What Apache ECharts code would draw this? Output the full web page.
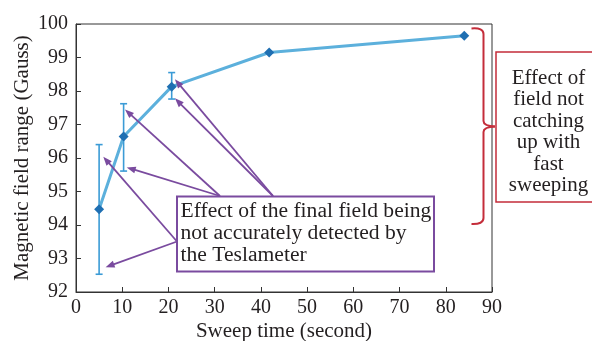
<!DOCTYPE html>
<html><head><meta charset="utf-8">
<script src="https://cdn.jsdelivr.net/npm/echarts@6/dist/echarts.min.js"></script>
<style>html,body{margin:0;padding:0;background:#fff}#c{width:592px;height:341px}</style>
</head><body><div id="c"></div>
<script>
var sweepTime = [5, 10.3, 20.7, 41.8, 84.0];
var fieldRange = [94.47, 96.64, 98.13, 99.15, 99.65];
var errLow = [92.53, 95.61, 97.76, null, null];
var errHigh = [96.40, 97.62, 98.55, null, null];
var xTicks = [0, 10, 20, 30, 40, 50, 60, 70, 80, 90];
var yTicks = [92, 93, 94, 95, 96, 97, 98, 99, 100];
// arrow tips (data coords) for purple annotation
var arrowTips = [[5.9, 96.04], [6.4, 92.74], [10.97, 95.72], [10.6, 97.45], [21.4, 97.78], [21.4, 98.35]];
var purpleText = ['Effect of the final field being', 'not accurately detected by', 'the Teslameter'];
var redText = ['Effect of', 'field not', 'catching', 'up with', 'fast', 'sweeping'];

var FONT = "'Liberation Serif','Times New Roman',serif";
var TXT = '#231f20';
var PURPLE = '#7a4b9f';
var RED = '#c42d3a';

var lineData = sweepTime.map(function (x, i) { return [x, fieldRange[i]]; });
var errData = [];
sweepTime.forEach(function (x, i) { if (errLow[i] != null) errData.push([x, errLow[i], errHigh[i]]); });

var chart = echarts.init(document.getElementById('c'), null, { renderer: 'canvas' });
chart.setOption({
  animation: false,
  grid: { left: 76, right: 100, top: 24, bottom: 49, outerBoundsMode: 'none', containLabel: false,
    show: true, borderColor: '#333', borderWidth: 1, backgroundColor: 'transparent' },
  xAxis: {
    type: 'value', min: 0, max: 90, interval: 10,
    name: 'Sweep time (second)', nameLocation: 'middle', nameGap: 29, nameMoveOverlap: false,
    nameTextStyle: { fontFamily: FONT, fontSize: 21, color: TXT },
    axisLine: { show: true, lineStyle: { color: '#333' } },
    axisTick: { show: true, inside: true, length: 5, lineStyle: { color: '#333' } },
    axisLabel: { fontFamily: FONT, fontSize: 20, color: TXT, margin: 6,
      formatter: function (v) { return xTicks.indexOf(v) >= 0 ? String(v) : ''; } },
    splitLine: { show: false }
  },
  yAxis: {
    type: 'value', min: 92, max: 100, interval: 1,
    name: 'Magnetic field range (Gauss)', nameLocation: 'middle', nameGap: 43, nameMoveOverlap: false,
    nameTextStyle: { fontFamily: FONT, fontSize: 21, color: TXT },
    axisLine: { show: true, lineStyle: { color: '#333' } },
    axisTick: { show: true, inside: true, length: 5, lineStyle: { color: '#333' } },
    axisLabel: { fontFamily: FONT, fontSize: 20, color: TXT, margin: 8,
      formatter: function (v) { return yTicks.indexOf(v) >= 0 ? String(v) : ''; } },
    splitLine: { show: false }
  },
  series: [
    {
      type: 'custom', z: 3,
      data: errData,
      renderItem: function (params, api) {
        var x = api.value(0);
        var lo = api.coord([x, api.value(1)]);
        var hi = api.coord([x, api.value(2)]);
        var w = 3.5;
        var st = { stroke: '#3b9bd6', lineWidth: 1.6 };
        return { type: 'group', children: [
          { type: 'line', shape: { x1: lo[0], y1: lo[1], x2: hi[0], y2: hi[1] }, style: st },
          { type: 'line', shape: { x1: lo[0] - w, y1: lo[1], x2: lo[0] + w, y2: lo[1] }, style: st },
          { type: 'line', shape: { x1: hi[0] - w, y1: hi[1], x2: hi[0] + w, y2: hi[1] }, style: st }
        ] };
      }
    },
    {
      type: 'line', z: 4,
      data: lineData,
      symbol: 'diamond', symbolSize: 10,
      lineStyle: { color: '#5cb0dc', width: 3 },
      itemStyle: { color: '#1f6fb2' }
    }
  ]
});

function arrow(from, to) {
  var dx = to[0] - from[0], dy = to[1] - from[1];
  var L = Math.sqrt(dx * dx + dy * dy);
  var ux = dx / L, uy = dy / L;
  var hl = 9, hw = 3.5;
  var bx = to[0] - ux * hl, by = to[1] - uy * hl;
  return [
    { type: 'line', shape: { x1: from[0], y1: from[1], x2: bx + ux * 2, y2: by + uy * 2 }, style: { stroke: PURPLE, lineWidth: 1.8 }, z: 10 },
    { type: 'polygon', shape: { points: [[to[0], to[1]], [bx - uy * hw, by + ux * hw], [bx + uy * hw, by - ux * hw]] }, style: { fill: PURPLE }, z: 10 }
  ];
}

var origins = [[177, 241.5], [177, 241.5], [220, 196], [220, 196], [273, 196], [273, 196]];
var g = [];
arrowTips.forEach(function (t, i) {
  var p = chart.convertToPixel({ gridIndex: 0 }, t);
  g = g.concat(arrow(origins[i], p));
});
g.push({ type: 'rect', shape: { x: 177, y: 196.5, width: 257, height: 75 }, style: { fill: '#fff', stroke: PURPLE, lineWidth: 2 }, z: 11 });
g.push({ type: 'text', x: 180.5, y: 200.5, style: { text: purpleText.join('\n'), font: '21.6px ' + FONT, fill: TXT, lineHeight: 22, textVerticalAlign: 'top' }, z: 12 });
// red brace
var bs = { stroke: RED, lineWidth: 2, fill: null };
g.push({ type: 'bezierCurve', shape: { x1: 471.5, y1: 28.5, cpx1: 483.5, cpy1: 27.5, x2: 483.5, y2: 34 }, style: bs, z: 10 });
g.push({ type: 'line', shape: { x1: 483.5, y1: 34, x2: 483.5, y2: 121 }, style: bs, z: 10 });
g.push({ type: 'bezierCurve', shape: { x1: 483.5, y1: 121, cpx1: 483.5, cpy1: 126, x2: 495, y2: 126.5 }, style: bs, z: 10 });
g.push({ type: 'bezierCurve', shape: { x1: 495, y1: 126.5, cpx1: 483.5, cpy1: 127, x2: 483.5, y2: 132 }, style: bs, z: 10 });
g.push({ type: 'line', shape: { x1: 483.5, y1: 132, x2: 483.5, y2: 218 }, style: bs, z: 10 });
g.push({ type: 'bezierCurve', shape: { x1: 483.5, y1: 218, cpx1: 483.5, cpy1: 224.5, x2: 471.5, y2: 224 }, style: bs, z: 10 });
g.push({ type: 'rect', shape: { x: 496, y: 52, width: 110, height: 150 }, style: { fill: '#fff', stroke: RED, lineWidth: 1.5 }, z: 10 });
g.push({ type: 'text', x: 548.5, y: 67.5, style: { text: redText.join('\n'), font: '21px ' + FONT, fill: TXT, lineHeight: 21.5, textAlign: 'center', textVerticalAlign: 'top' }, z: 12 });
chart.setOption({ graphic: g });
</script></body></html>
